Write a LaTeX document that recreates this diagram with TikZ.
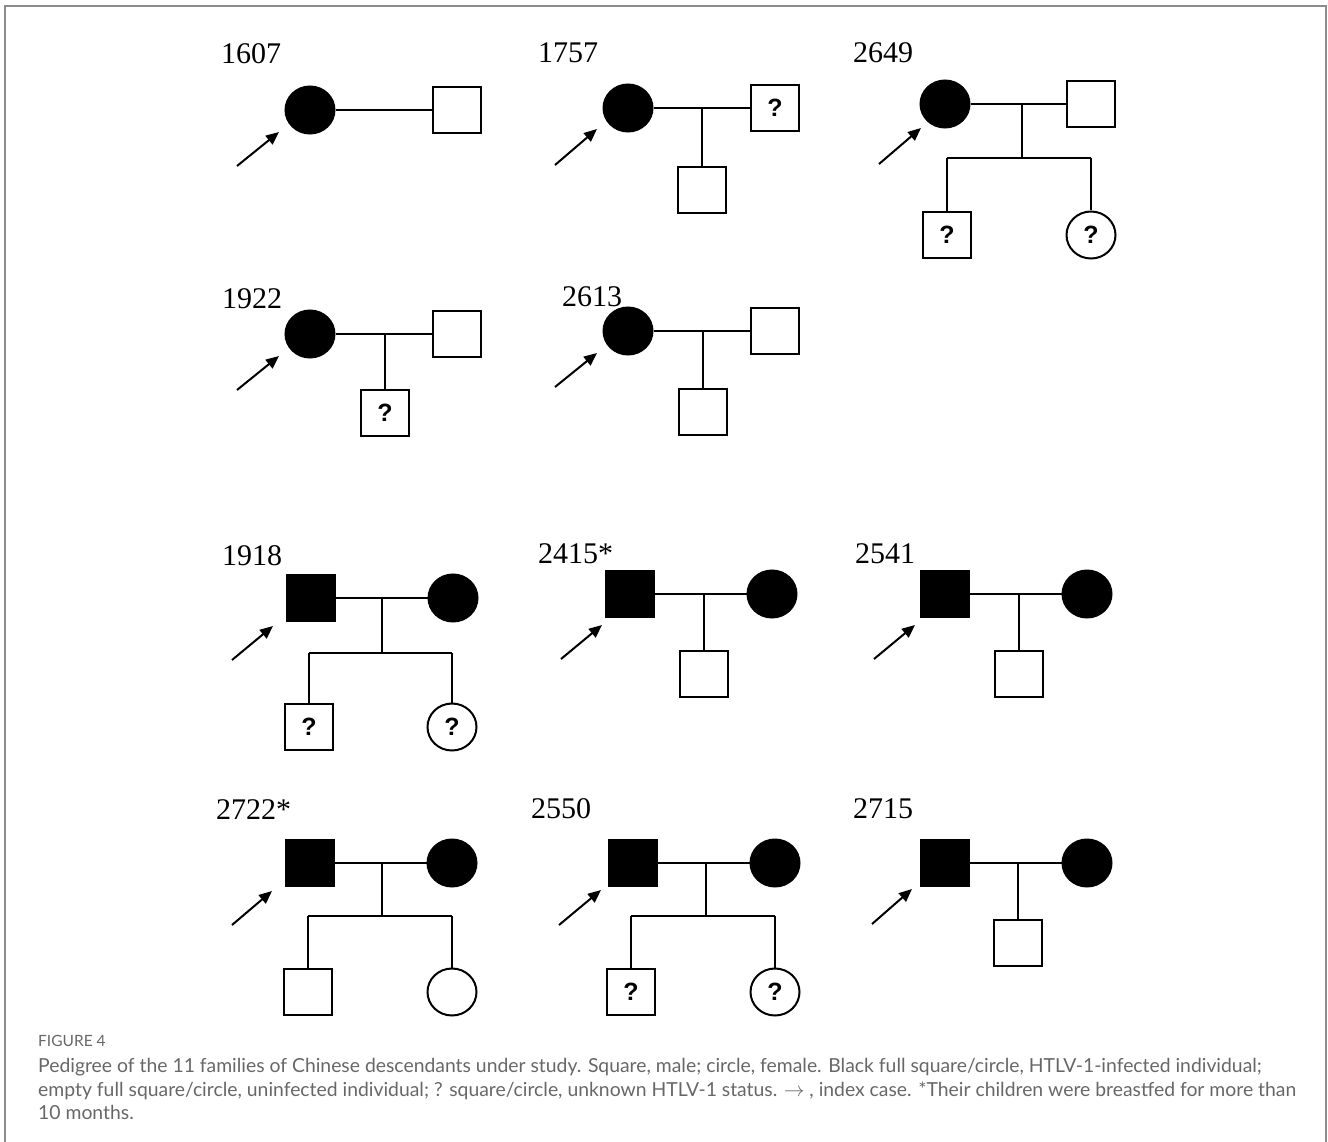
\documentclass[tikz,border=0pt]{standalone}
\usepackage{fontspec}
\setmainfont{Liberation Serif}
\newfontfamily\capfont{Lato}
\newfontfamily\qfont{Liberation Sans}
\usetikzlibrary{shapes.geometric,arrows.meta}
\definecolor{captext}{HTML}{676767}
\definecolor{frame}{HTML}{8C8C8C}
\begin{document}
\begin{tikzpicture}[x=1pt,y=-1pt,
  male/.style={draw, rectangle, minimum width=48pt, minimum height=46pt, inner sep=0pt, line width=2pt},
  female/.style={draw, ellipse, minimum width=49pt, minimum height=47pt, inner sep=0pt, line width=2pt},
  aff/.style={fill=black},
  unk/.style={font=\qfont\bfseries\fontsize{25}{25}\selectfont},
  famlabel/.style={anchor=base west, inner sep=0pt, font=\fontsize{30}{30}\selectfont},
  link/.style={line width=2pt},
  index/.style={line width=2pt, -{Triangle[length=13pt,width=11pt]}},
  capline/.style={anchor=base west, inner sep=0pt, text=captext, font=\capfont\fontsize{19.35}{22}\selectfont},
  caphead/.style={anchor=base west, inner sep=0pt, text=captext, font=\capfont\fontsize{15.5}{17}\selectfont}
]
\useasboundingbox (0,0) rectangle (1328,1142);
\draw[frame, line width=2pt] (5,1142) -- (5,6) -- (1326,6) -- (1326,1142);

% ---------- 1607 ----------
\node[famlabel] (l1607) at (221,64) {1607};
\node[female, aff] (m1607) at (310,110) {};
\node[male] (f1607) at (457,110) {};
\draw[link] (m1607.east) -- (f1607.west);
\coordinate (a1607) at (237,166); \coordinate (t1607) at (279,132);
\draw[index] (a1607) -- (t1607);

% ---------- 1757 ----------
\node[famlabel] (l1757) at (538,63) {1757};
\node[female, aff] (m1757) at (628,108) {};
\node[male, unk] (f1757) at (775,108) {?};
\draw[link] (m1757.east) -- (f1757.west);
\coordinate (c1757) at (702,108);
\node[male] (k1757) at (702,190) {};
\draw[link] (c1757) -- (k1757.north);
\coordinate (a1757) at (555,165); \coordinate (t1757) at (597,129);
\draw[index] (a1757) -- (t1757);

% ---------- 2649 ----------
\node[famlabel] (l2649) at (853,63) {2649};
\node[female, aff] (m2649) at (945,104) {};
\node[male] (f2649) at (1091,104) {};
\draw[link] (m2649.east) -- (f2649.west);
\coordinate (c2649) at (1022,104);
\coordinate (s2649) at (1022,158);
\coordinate (sl2649) at (947,158);
\coordinate (sr2649) at (1091,158);
\node[male, unk] (k2649a) at (947,235) {?};
\node[female, unk] (k2649b) at (1091,235) {?};
\draw[link] (c2649) -- (s2649);
\draw[link] (sl2649) -- (sr2649);
\draw[link] (sl2649) -- (k2649a.north);
\draw[link] (sr2649) -- (k2649b.north);
\coordinate (a2649) at (879,164); \coordinate (t2649) at (921,128);
\draw[index] (a2649) -- (t2649);

% ---------- 1922 ----------
\node[famlabel] (l1922) at (222,308) {1922};
\node[female, aff] (m1922) at (310,334) {};
\node[male] (f1922) at (457,334) {};
\draw[link] (m1922.east) -- (f1922.west);
\coordinate (c1922) at (385,334);
\node[male, unk] (k1922) at (385,413) {?};
\draw[link] (c1922) -- (k1922.north);
\coordinate (a1922) at (237,390); \coordinate (t1922) at (279,356);
\draw[index] (a1922) -- (t1922);

% ---------- 2613 ----------
\node[famlabel] (l2613) at (562,306) {2613};
\node[female, aff] (m2613) at (628,331) {};
\node[male] (f2613) at (775,331) {};
\draw[link] (m2613.east) -- (f2613.west);
\coordinate (c2613) at (703,331);
\node[male] (k2613) at (703,412) {};
\draw[link] (c2613) -- (k2613.north);
\coordinate (a2613) at (555,387); \coordinate (t2613) at (597,353);
\draw[index] (a2613) -- (t2613);

% ---------- 1918 ----------
\node[famlabel] (l1918) at (222,565) {1918};
\node[male, aff] (f1918) at (311,598) {};
\node[female, aff] (m1918) at (453,598) {};
\draw[link] (f1918.east) -- (m1918.west);
\coordinate (c1918) at (382,598);
\coordinate (s1918) at (382,653);
\coordinate (sl1918) at (309,653);
\coordinate (sr1918) at (452,653);
\node[male, unk] (k1918a) at (309,727) {?};
\node[female, unk] (k1918b) at (452,727) {?};
\draw[link] (c1918) -- (s1918);
\draw[link] (sl1918) -- (sr1918);
\draw[link] (sl1918) -- (k1918a.north);
\draw[link] (sr1918) -- (k1918b.north);
\coordinate (a1918) at (232,660); \coordinate (t1918) at (273,626);
\draw[index] (a1918) -- (t1918);

% ---------- 2415* ----------
\node[famlabel] (l2415) at (538,563) {2415*};
\node[male, aff] (f2415) at (630,594) {};
\node[female, aff] (m2415) at (772,594) {};
\draw[link] (f2415.east) -- (m2415.west);
\coordinate (c2415) at (704,594);
\node[male] (k2415) at (704,674) {};
\draw[link] (c2415) -- (k2415.north);
\coordinate (a2415) at (561,659); \coordinate (t2415) at (602,625);
\draw[index] (a2415) -- (t2415);

% ---------- 2541 ----------
\node[famlabel] (l2541) at (855,563) {2541};
\node[male, aff] (f2541) at (945,594) {};
\node[female, aff] (m2541) at (1087,594) {};
\draw[link] (f2541.east) -- (m2541.west);
\coordinate (c2541) at (1019,594);
\node[male] (k2541) at (1019,674) {};
\draw[link] (c2541) -- (k2541.north);
\coordinate (a2541) at (874,659); \coordinate (t2541) at (915,625);
\draw[index] (a2541) -- (t2541);

% ---------- 2722* ----------
\node[famlabel] (l2722) at (216,819) {2722*};
\node[male, aff] (f2722) at (310,863) {};
\node[female, aff] (m2722) at (452,863) {};
\draw[link] (f2722.east) -- (m2722.west);
\coordinate (c2722) at (382,863);
\coordinate (s2722) at (382,916);
\coordinate (sl2722) at (308,916);
\coordinate (sr2722) at (452,916);
\node[male] (k2722a) at (308,992) {};
\node[female] (k2722b) at (452,992) {};
\draw[link] (c2722) -- (s2722);
\draw[link] (sl2722) -- (sr2722);
\draw[link] (sl2722) -- (k2722a.north);
\draw[link] (sr2722) -- (k2722b.north);
\coordinate (a2722) at (232,925); \coordinate (t2722) at (272,891);
\draw[index] (a2722) -- (t2722);

% ---------- 2550 ----------
\node[famlabel] (l2550) at (531,818) {2550};
\node[male, aff] (f2550) at (633,863) {};
\node[female, aff] (m2550) at (775,863) {};
\draw[link] (f2550.east) -- (m2550.west);
\coordinate (c2550) at (706,863);
\coordinate (s2550) at (706,916);
\coordinate (sl2550) at (631,916);
\coordinate (sr2550) at (775,916);
\node[male, unk] (k2550a) at (631,992) {?};
\node[female, unk] (k2550b) at (775,992) {?};
\draw[link] (c2550) -- (s2550);
\draw[link] (sl2550) -- (sr2550);
\draw[link] (sl2550) -- (k2550a.north);
\draw[link] (sr2550) -- (k2550b.north);
\coordinate (a2550) at (559,925); \coordinate (t2550) at (601,890);
\draw[index] (a2550) -- (t2550);

% ---------- 2715 ----------
\node[famlabel] (l2715) at (853,818) {2715};
\node[male, aff] (f2715) at (945,863) {};
\node[female, aff] (m2715) at (1087,863) {};
\draw[link] (f2715.east) -- (m2715.west);
\coordinate (c2715) at (1018,863);
\node[male] (k2715) at (1018,943) {};
\draw[link] (c2715) -- (k2715.north);
\coordinate (a2715) at (872,924); \coordinate (t2715) at (912,889);
\draw[index] (a2715) -- (t2715);

% ---------- caption ----------
\node[caphead] (cap0) at (38,1046) {FIGURE 4};
\node[capline] (cap1) at (38,1072) {Pedigree of the 11 families of Chinese descendants under study. Square, male; circle, female. Black full square/circle, HTLV-1-infected individual;};
\node[capline] (cap2) at (38,1096) {empty full square/circle, uninfected individual; ? square/circle, unknown HTLV-1 status. $\rightarrow$ , index case. *Their children were breastfed for more than};
\node[capline] (cap3) at (38,1119) {10 months.};
\end{tikzpicture}
\end{document}
